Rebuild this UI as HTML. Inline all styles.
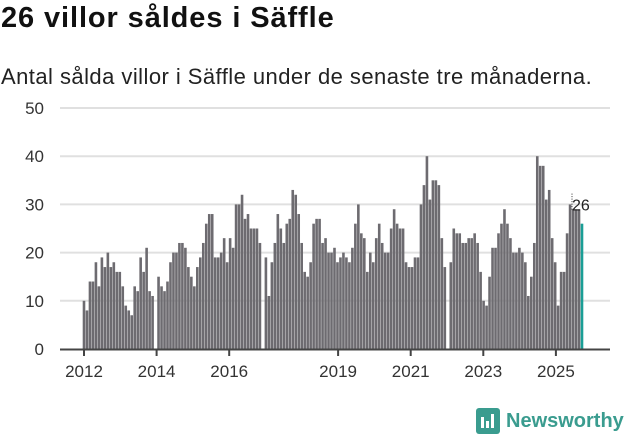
<!DOCTYPE html>
<html><head><meta charset="utf-8"><style>
body{margin:0;width:631px;height:439px;background:#fff;font-family:"Liberation Sans",sans-serif;overflow:hidden;position:relative}
h1{position:absolute;left:1px;top:2px;margin:0;font-size:29px;font-weight:bold;color:#111;letter-spacing:0.9px}
.sub{position:absolute;left:1px;top:64px;font-size:22px;color:#222;letter-spacing:0.45px}
</style></head><body>
<h1>26 villor såldes i Säffle</h1>
<div class="sub">Antal sålda villor i Säffle under de senaste tre månaderna.</div>
<svg id="c" width="631" height="439" style="position:absolute;left:0;top:0"></svg>
<script>
const values=[10,8,14,14,18,13,19,17,20,17,18,16,16,13,9,8,7,13,12,19,16,21,12,11,0,15,13,12,14,18,20,20,22,22,21,17,15,13,17,19,22,
26,28,28,19,19,20,23,18,23,21,30,30,32,27,28,25,25,25,22,0,19,11,18,22,28,25,22,26,27,33,32,28,22,16,15,18,26,27,27,22,23,20,20,
21,18,19,20,19,18,21,26,30,24,23,16,20,18,23,26,22,20,20,25,29,26,25,25,18,17,17,19,19,30,34,40,31,35,35,34,23,17,0,18,25,24,24,
22,22,23,23,24,22,16,10,9,15,21,21,24,26,29,26,23,20,20,21,20,18,11,15,22,40,38,38,31,33,23,18,9,16,16,24,30,29,29,29,26];
const yTicks=[0,10,20,30,40,50];
const xTickYears=[2012,2014,2016,2019,2021,2023,2025];
const NS="http://www.w3.org/2000/svg",svg=document.getElementById('c');
const y=v=>349-v*4.82;
const step=498/(values.length-1);
const x=i=>84+i*step;
const xYear=yr=>84+(yr-2012)*36.3;
function mk(t,a){const e=document.createElementNS(NS,t);for(const k in a)e.setAttribute(k,a[k]);svg.appendChild(e);return e;}
yTicks.forEach(t=>{
 if(t>0){const g=mk('line',{x1:60,x2:610,y1:y(t),y2:y(t),stroke:'#e0e0e0','stroke-width':2});
 
 }
 const l=mk('text',{x:44,y:y(t)+6,'text-anchor':'end','font-size':17,fill:'#333','font-family':'Liberation Sans, sans-serif'});
 l.textContent=t;
 
 
});
values.forEach((v,i)=>{
 if(v<=0)return;
 const last=i===values.length-1;
 const r=mk('rect',{x:x(i)-1.3,y:y(v),width:2.6,height:349-y(v),fill:last?'#1a9e96':'#6d6b70'});
 
 
});
const ax=mk('line',{x1:60,x2:610,y1:349.5,y2:349.5,stroke:'#444','stroke-width':2});


xTickYears.forEach(yr=>{
 const tk=mk('line',{x1:xYear(yr),x2:xYear(yr),y1:349,y2:356,stroke:'#444','stroke-width':2});
 
 
 const l=mk('text',{x:xYear(yr),y:377,'text-anchor':'middle','font-size':17,fill:'#333','font-family':'Liberation Sans, sans-serif'});
 l.textContent=yr;
 
 
});
const li=values.length-1;
const ld=mk('line',{x1:x(li)-10,x2:x(li)-10,y1:y(values[li])-30,y2:y(values[li])-14,stroke:'#333','stroke-dasharray':'1,1.5'});


const an=mk('text',{x:x(li)-10,y:y(values[li])-13,'font-size':16,fill:'#222','font-family':'Liberation Sans, sans-serif'});
an.textContent=values[li];


</script>
<div style="position:absolute;left:476px;top:408px;display:flex;align-items:center">
 <div style="width:24px;height:26px;background:#3a9c8f;border-radius:3px;position:relative"><div style="position:absolute;left:5px;top:9px;width:3px;height:11px;background:#fff"></div><div style="position:absolute;left:10px;top:13px;width:3px;height:7px;background:#fff"></div><div style="position:absolute;left:15px;top:6px;width:3px;height:14px;background:#fff"></div></div>
 <span style="margin-left:6px;font-size:20px;font-weight:bold;color:#3a9c8f">Newsworthy</span>
</div>
</body></html>
